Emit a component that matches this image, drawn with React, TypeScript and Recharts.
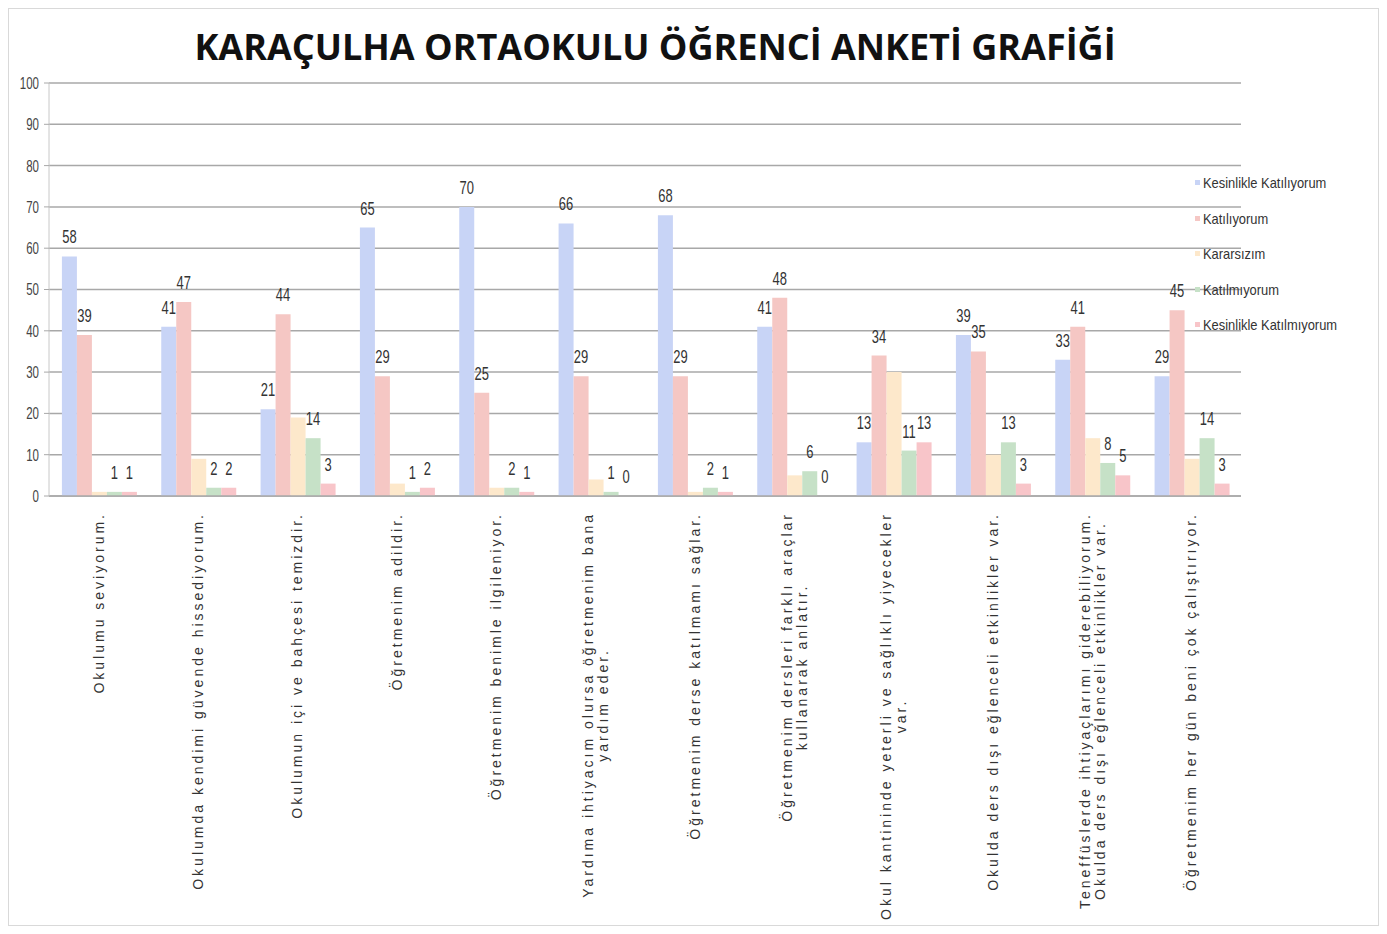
import React from 'react'
import {
  BarChart,
  Bar,
  XAxis,
  YAxis,
  CartesianGrid,
  LabelList,
} from 'recharts'

const categories = [
  'Okulumu seviyorum.',
  'Okulumda kendimi güvende hissediyorum.',
  'Okulumun içi ve bahçesi temizdir.',
  'Öğretmenim adildir.',
  'Öğretmenim benimle ilgileniyor.',
  'Yardıma ihtiyacım olursa öğretmenim bana\nyardım eder.',
  'Öğretmenim derse katılmamı sağlar.',
  'Öğretmenim dersleri farklı araçlar\nkullanarak anlatır.',
  'Okul kantininde yeterli ve sağlıklı yiyecekler\nvar.',
  'Okulda ders dışı eğlenceli etkinlikler var.',
  'Teneffüslerde ihtiyaçlarımı giderebiliyorum.\nOkulda ders dışı eğlenceli etkinlikler var.',
  'Öğretmenim her gün beni çok çalıştırıyor.',
]

const kesinlikleKatiliyorum = [58, 41, 21, 65, 70, 66, 68, 41, 13, 39, 33, 29]
const katiliyorum = [39, 47, 44, 29, 25, 29, 29, 48, 34, 35, 41, 45]
const kararsizim = [1, 9, 19, 3, 2, 4, 1, 5, 30, 10, 14, 9]
const katilmiyorum = [1, 2, 14, 1, 2, 1, 2, 6, 11, 13, 8, 14]
const kesinlikleKatilmiyorum = [1, 2, 3, 2, 1, 0, 1, 0, 13, 3, 5, 3]

const yTicks = [0, 10, 20, 30, 40, 50, 60, 70, 80, 90, 100]

const series = [
  { key: 'k1', name: 'Kesinlikle Katılıyorum', color: '#c8d4f6', values: kesinlikleKatiliyorum, labels: true },
  { key: 'k2', name: 'Katılıyorum', color: '#f5c7c4', values: katiliyorum, labels: true },
  { key: 'k3', name: 'Kararsızım', color: '#fde8cb', values: kararsizim, labels: false },
  { key: 'k4', name: 'Katılmıyorum', color: '#c6e1c7', values: katilmiyorum, labels: true },
  { key: 'k5', name: 'Kesinlikle Katılmıyorum', color: '#f8c5c9', values: kesinlikleKatilmiyorum, labels: true },
]

const data = categories.map((name, i) => {
  const row: any = { name }
  series.forEach(s => { row[s.key] = s.values[i] })
  return row
})

const SANS = "'Liberation Sans', Arial, sans-serif"
const LABEL_FONT = 14
const LABEL_SPACING = 3

let ctx: CanvasRenderingContext2D | null = null
const measure = (t: string) => {
  if (!ctx) {
    ctx = document.createElement('canvas').getContext('2d')
  }
  if (!ctx) return t.length * 10
  ctx.font = `${LABEL_FONT}px "Liberation Sans"`
  return ctx.measureText(t).width + LABEL_SPACING * t.length
}

const XTick = (props: any) => {
  const { x, y, payload } = props
  const lines = String(payload.value).split('\n')
  const maxW = Math.max(...lines.map(measure))
  return (
    <g transform={`translate(${x},${y + 8}) rotate(-90)`}>
      {lines.map((l, i) => (
        <text
          key={i}
          x={-maxW / 2}
          y={(i - (lines.length - 1) / 2) * 15 + 5}
          textAnchor="middle"
          fontFamily={SANS}
          fontSize={LABEL_FONT}
          fill="#333"
          style={{ letterSpacing: LABEL_SPACING }}
        >
          {l}
        </text>
      ))}
    </g>
  )
}

// narrow, tall digits like the original
const ValueLabel = (props: any) => {
  const { x, y, width, value } = props
  const cx = x + width / 2
  return (
    <text
      x={cx}
      y={y - 13}
      textAnchor="middle"
      fontFamily={SANS}
      fontSize={18}
      fill="#333"
      transform={`translate(${cx},0) scale(0.72,1) translate(${-cx},0)`}
    >
      {value}
    </text>
  )
}

const YTick = (props: any) => {
  const { x, y, payload } = props
  const tx = x - 3
  return (
    <text
      x={tx}
      y={y + 6}
      textAnchor="end"
      fontFamily={SANS}
      fontSize={16}
      fill="#444"
      transform={`translate(${tx},0) scale(0.72,1) translate(${-tx},0)`}
    >
      {payload.value}
    </text>
  )
}

const LegendBox = () => (
  <div style={{ position: 'absolute', left: 1186, top: 156, fontFamily: SANS, fontSize: 15, color: '#333' }}>
    {series.map(s => (
      <div key={s.key} style={{ display: 'flex', alignItems: 'center', height: 35.5 }}>
        <span style={{ width: 5, height: 5, background: s.color, marginRight: 3, display: 'inline-block' }} />
        <span style={{ display: 'inline-block', transform: 'scaleX(0.86)', transformOrigin: 'left center', whiteSpace: 'nowrap' }}>
          {s.name}
        </span>
      </div>
    ))}
  </div>
)

// zero values still need a (invisible) bar so their "0" label is drawn
const tinyForZero = (value: any) => (value === 0 ? 0.01 : 0)

export default function App() {
  return (
    <div style={{ position: 'relative', width: 1371, height: 918, border: '1px solid #d9d9d9', boxSizing: 'border-box', background: '#fff' }}>
      <div
        style={{
          position: 'absolute',
          top: 13,
          left: 0,
          width: 1292,
          textAlign: 'center',
          fontFamily: "'Open Sans', 'Noto Sans', sans-serif",
          fontWeight: 700,
          fontSize: 36,
          color: '#111',
          whiteSpace: 'nowrap',
        }}
      >
        KARAÇULHA ORTAOKULU ÖĞRENCİ ANKETİ GRAFİĞİ
      </div>
      <BarChart
        width={1369}
        height={916}
        data={data}
        margin={{ top: 74, right: 137, left: 10, bottom: 10 }}
        barCategoryGap="13%"
        barGap={0}
      >
        <CartesianGrid vertical={false} stroke="#a8a8a8" strokeWidth={1.5} />
        <XAxis
          dataKey="name"
          interval={0}
          height={419}
          tick={<XTick />}
          tickLine={false}
          axisLine={{ stroke: '#a8a8a8', strokeWidth: 1.5 }}
        />
        <YAxis
          domain={[0, 100]}
          ticks={yTicks}
          width={30}
          tick={<YTick />}
          tickLine={{ stroke: '#a8a8a8' }}
          tickSize={5}
          axisLine={{ stroke: '#c8c8c8' }}
        />
        {series.map(s => (
          <Bar
            key={s.key}
            dataKey={s.key}
            name={s.name}
            fill={s.color}
            minPointSize={tinyForZero}
            isAnimationActive={false}
          >
            {s.labels && <LabelList dataKey={s.key} content={<ValueLabel />} />}
          </Bar>
        ))}
      </BarChart>
      <LegendBox />
    </div>
  )
}
